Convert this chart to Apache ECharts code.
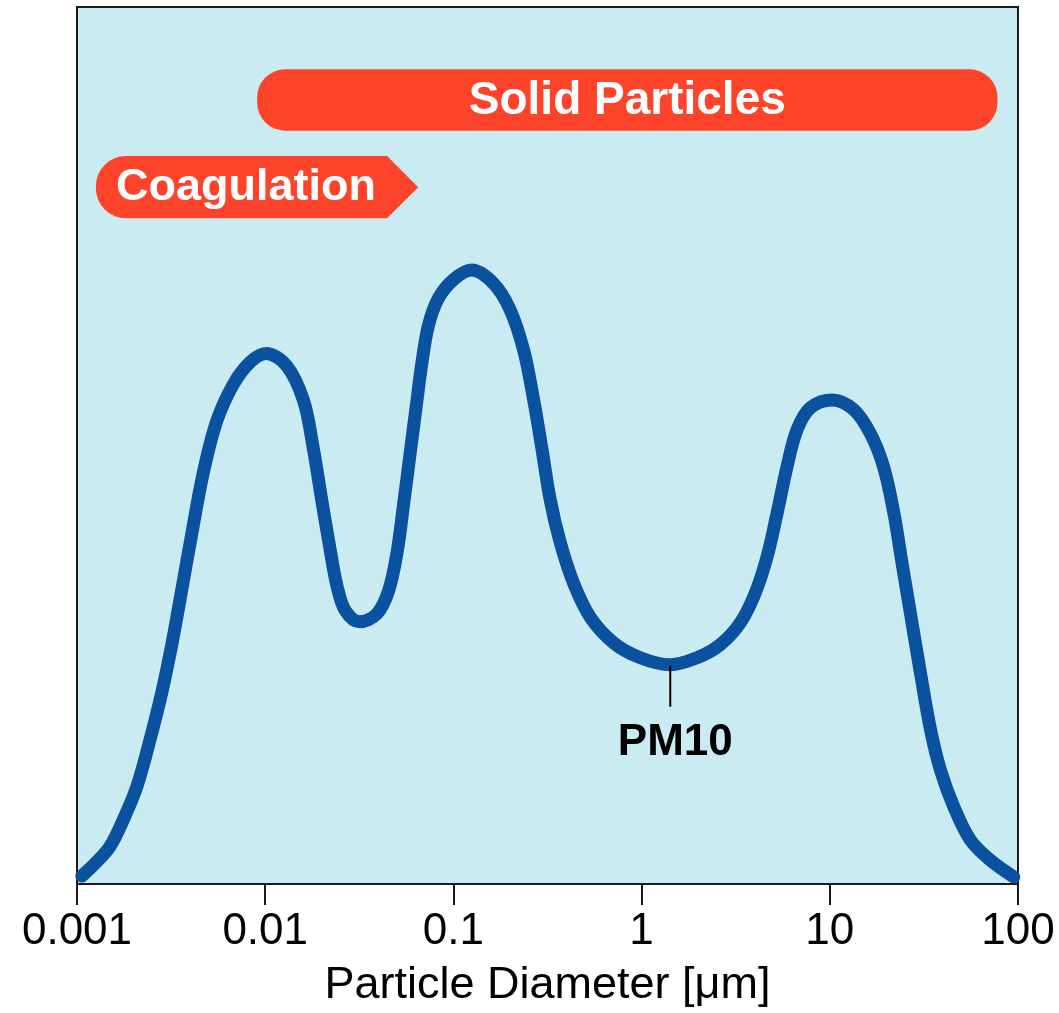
<!DOCTYPE html>
<html>
<head>
<meta charset="utf-8">
<style>
  html, body { margin: 0; padding: 0; background: #ffffff; }
  #chart { width: 1059px; height: 1013px; }
</style>
<script src="https://cdn.jsdelivr.net/npm/echarts@6/dist/echarts.min.js"></script>
</head>
<body>
<div id="chart"></div>
<script>
// Particle diameter (µm) along the log axis
const diameters = [
  0.00106, 0.00127, 0.0015, 0.00176, 0.00208, 0.00244, 0.00282, 0.00319, 0.0036, 0.00407,
  0.00469, 0.00553, 0.00678, 0.00831, 0.0101, 0.013, 0.016, 0.018, 0.02, 0.0219,
  0.024, 0.0266, 0.0317, 0.0392, 0.0452, 0.0501, 0.0543, 0.0589, 0.0634, 0.068,
  0.0737, 0.0833, 0.1, 0.125, 0.163, 0.2, 0.236, 0.267, 0.296, 0.327,
  0.37, 0.435, 0.534, 0.71, 0.984, 1.42, 1.97, 2.62, 3.35, 4.02,
  4.64, 5.25, 5.93, 6.7, 7.89, 10.3, 13.4, 16.4, 19.3, 21.9,
  24.2, 26.8, 30.3, 34.3, 38.7, 45.6, 55.9, 71.4, 95
];
// Relative number concentration (arbitrary units)
const concentration = [
  0.9, 2.5, 4.3, 7.3, 11.1, 16.4, 21.8, 27.3, 33.5, 39.9,
  46.9, 52.8, 57.0, 59.5, 60.5, 59.1, 55.1, 49.7, 43.7, 38.7,
  34.1, 31.2, 29.9, 30.8, 33.4, 37.7, 43.2, 49.1, 54.4, 59.4,
  63.7, 66.8, 68.9, 70.0, 68.5, 65.5, 60.9, 55.2, 49.5, 43.8,
  38.9, 34.3, 30.4, 27.5, 25.8, 25.0, 25.8, 27.3, 29.8, 33.2,
  37.3, 42.3, 47.6, 51.8, 54.3, 55.2, 54.1, 51.4, 47.6, 42.3,
  36.6, 30.9, 24.1, 17.6, 13.0, 8.8, 5.0, 2.7, 0.8
];
// Axis tick labels, one per decade from 0.001 to 100
const tickLabels = ['0.001', '0.01', '0.1', '1', '10', '100'];
// Size ranges of the two process bands (µm)
const solidRange = [0.00906, 77.8];
const coagulationRange = [0.00126, 0.065];
const bandLabels = ['Solid Particles', 'Coagulation'];
// Marker at the valley between the fine and coarse modes
const pm10Label = 'PM10';
const pm10Diameter = 1.42;

const RED = '#FD442B';
const BLUE = '#0A52A0';
const FONT = '"Liberation Sans", Arial, Helvetica, sans-serif';

const curve = diameters.map((d, i) => [d, concentration[i]]);
const pm10Value = concentration[diameters.indexOf(pm10Diameter)];

function renderSolid(params, api) {
  const a = api.coord([api.value(0), api.value(2)]);
  const b = api.coord([api.value(1), api.value(3)]);
  const h = b[1] - a[1];
  return {
    type: 'group',
    children: [
      { type: 'rect', shape: { x: a[0], y: a[1], width: b[0] - a[0], height: h, r: 28 },
        style: { fill: RED } },
      { type: 'text', style: {
          text: bandLabels[0], x: (a[0] + b[0]) / 2, y: a[1] + h / 2 + 1,
          fill: '#ffffff', font: 'bold 46px ' + FONT,
          align: 'center', verticalAlign: 'middle', textAlign: 'center', textVerticalAlign: 'middle' } }
    ]
  };
}

function renderCoagulation(params, api) {
  const a = api.coord([api.value(0), api.value(2)]);
  const b = api.coord([api.value(1), api.value(3)]);
  const h = b[1] - a[1];
  const tip = b[0];
  const flat = tip - h / 2;
  return {
    type: 'group',
    children: [
      { type: 'rect', shape: { x: a[0], y: a[1], width: flat - a[0] + 0.5, height: h, r: [30, 0, 0, 30] },
        style: { fill: RED } },
      { type: 'polygon', shape: { points: [[flat, a[1]], [tip, a[1] + h / 2], [flat, b[1]]] },
        style: { fill: RED } },
      { type: 'text', style: {
          text: bandLabels[1], x: a[0] + 20, y: a[1] + h / 2,
          fill: '#ffffff', font: 'bold 45px ' + FONT,
          align: 'left', verticalAlign: 'middle', textAlign: 'left', textVerticalAlign: 'middle' } }
    ]
  };
}

function renderPM10(params, api) {
  const p = api.coord([api.value(0), api.value(1)]);
  return {
    type: 'group',
    children: [
      { type: 'line', shape: { x1: p[0], y1: p[1] + 1, x2: p[0], y2: p[1] + 42 },
        style: { stroke: '#000000', lineWidth: 2 } },
      { type: 'text', style: {
          text: pm10Label, x: p[0] + 5, y: p[1] + 78,
          fill: '#000000', font: 'bold 44px ' + FONT,
          align: 'center', verticalAlign: 'middle', textAlign: 'center', textVerticalAlign: 'middle' } }
    ]
  };
}

const chart = echarts.init(document.getElementById('chart'), null, { renderer: 'canvas' });
chart.setOption({
  animation: false,
  backgroundColor: '#ffffff',
  grid: {
    left: 77, right: 41, top: 7, bottom: 129,
    show: true, backgroundColor: '#CAEBF2', borderColor: '#1a1a1a', borderWidth: 2
  },
  xAxis: {
    type: 'log', logBase: 10, min: 0.001, max: 100,
    name: 'Particle Diameter [\u03BCm]', nameLocation: 'middle', nameGap: 79,
    nameTextStyle: { fontSize: 45, color: '#000000', fontFamily: FONT },
    axisLine: { show: true, lineStyle: { color: '#1a1a1a', width: 2 } },
    axisTick: { show: true, length: 21, lineStyle: { color: '#1a1a1a', width: 2 } },
    minorTick: { show: false },
    splitLine: { show: false },
    axisLabel: {
      fontSize: 44, color: '#000000', fontFamily: FONT, margin: 26,
      formatter: v => tickLabels[Math.round(Math.log10(v)) + 3]
    }
  },
  yAxis: {
    type: 'value', min: 0, max: 100, show: false, splitLine: { show: false }
  },
  series: [
    {
      type: 'line', data: curve, symbol: 'none', smooth: 0.35, clip: false,
      lineStyle: { color: BLUE, width: 13, cap: 'round', join: 'round' },
      z: 3
    },
    {
      type: 'custom', renderItem: renderSolid, clip: false, z: 4,
      encode: { x: [0, 1], y: [2, 3] },
      data: [[solidRange[0], solidRange[1], 92.9, 85.9]]
    },
    {
      type: 'custom', renderItem: renderCoagulation, clip: false, z: 4,
      encode: { x: [0, 1], y: [2, 3] },
      data: [[coagulationRange[0], coagulationRange[1], 83.0, 75.9]]
    },
    {
      type: 'custom', renderItem: renderPM10, clip: false, z: 5,
      encode: { x: 0, y: 1 },
      data: [[pm10Diameter, pm10Value]]
    }
  ]
});
</script>
</body>
</html>
